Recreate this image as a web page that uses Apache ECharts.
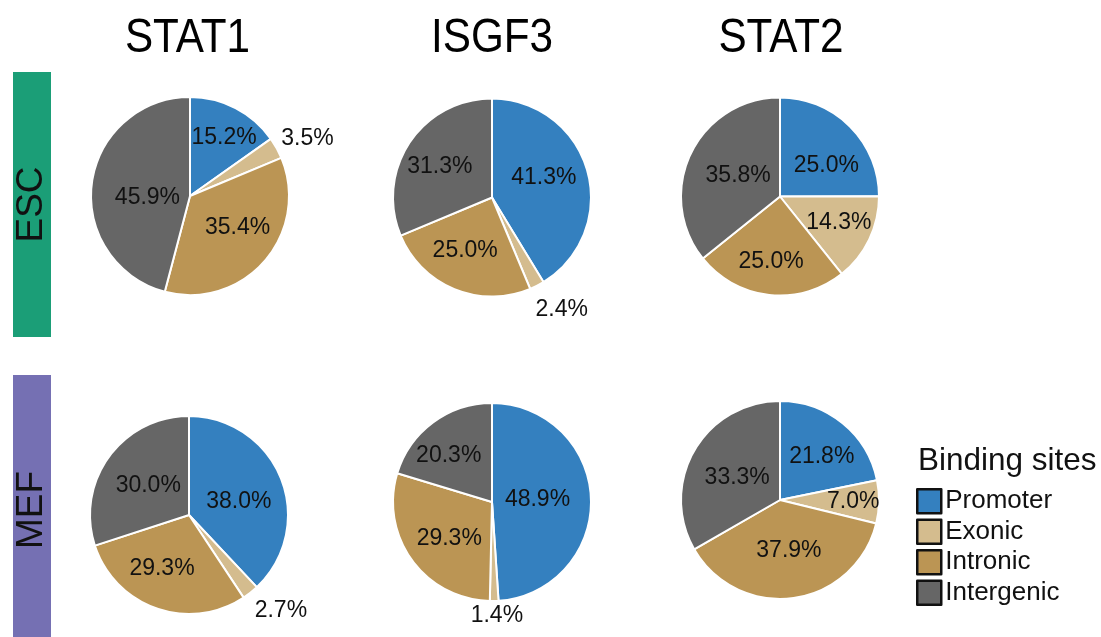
<!DOCTYPE html>
<html>
<head>
<meta charset="utf-8">
<script src="https://cdn.jsdelivr.net/npm/echarts@6/dist/echarts.min.js"></script>
<style>
  html, body { margin: 0; padding: 0; background: #fff; }
  #chart { width: 1101px; height: 637px; }
</style>
</head>
<body>
<div id="chart"></div>
<script>
// Binding-site categories (clockwise from 12 o'clock)
const CATEGORIES = ['Promoter', 'Exonic', 'Intronic', 'Intergenic'];
const FACTORS = ['STAT1', 'ISGF3', 'STAT2'];
const CELL_TYPES = ['ESC', 'MEF'];

// Percentage of peaks per category
const ESC_STAT1 = [15.2, 3.5, 35.4, 45.9];
const ESC_ISGF3 = [41.3, 2.4, 25.0, 31.3];
const ESC_STAT2 = [25.0, 14.3, 25.0, 35.8];
const MEF_STAT1 = [38.0, 2.7, 29.3, 30.0];
const MEF_ISGF3 = [48.9, 1.4, 29.3, 20.3];
const MEF_STAT2 = [21.8, 7.0, 37.9, 33.3];

const VALUES = {
  ESC: { STAT1: ESC_STAT1, ISGF3: ESC_ISGF3, STAT2: ESC_STAT2 },
  MEF: { STAT1: MEF_STAT1, ISGF3: MEF_ISGF3, STAT2: MEF_STAT2 }
};

// ---- styling / layout ----
const COLORS = ['#3480bf', '#d4bc8e', '#bb9554', '#666666'];
const FONT = '"Liberation Sans", Arial, Helvetica, sans-serif';
const RADIUS = 99;
const CENTERS = {
  ESC: { STAT1: [190, 196], ISGF3: [492, 197.5], STAT2: [780, 196.5] },
  MEF: { STAT1: [189, 515], ISGF3: [492, 502], STAT2: [780, 500] }
};
// label placement per slice: [fraction of radius, angular nudge in degrees]
const LABEL_PLACE = {
  ESC: {
    STAT1: [[0.68, 3], [1.32, 3], [0.58, -7], [0.43, -9]],
    ISGF3: [[0.56, -5], [1.33, -5], [0.60, 4.5], [0.61, -3.3]],
    STAT2: [[0.56, 11.7], [0.65, -1.8], [0.66, 1.6], [0.47, 0.4]]
  },
  MEF: {
    STAT1: [[0.52, 7], [1.34, -5.5], [0.61, 7.3], [0.51, 0.2]],
    ISGF3: [[0.46, -0.6], [1.15, -1.2], [0.57, -4.8], [0.64, -6.5]],
    STAT2: [[0.61, 4.5], [0.74, 0.5], [0.52, -1.9], [0.49, -2]]
  }
};

function makeLabelLayout(values, center, place) {
  const total = values.reduce((a, b) => a + b, 0);
  return function (p) {
    const i = p.dataIndex;
    let cum = 0;
    for (let k = 0; k < i; k++) cum += values[k];
    cum += values[i] / 2;
    const deg = cum / total * 360 + place[i][1];
    const rad = deg * Math.PI / 180;
    const r = RADIUS * place[i][0];
    return {
      x: center[0] + r * Math.sin(rad),
      y: center[1] - r * Math.cos(rad),
      align: 'center',
      verticalAlign: 'middle'
    };
  };
}

const series = [];
CELL_TYPES.forEach(cell => {
  FACTORS.forEach(tf => {
    const values = VALUES[cell][tf];
    const center = CENTERS[cell][tf];
    series.push({
      type: 'pie',
      name: cell + ' ' + tf,
      center: center,
      radius: [0, RADIUS],
      startAngle: 90,
      clockwise: true,
      avoidLabelOverlap: false,
      silent: true,
      itemStyle: { borderColor: '#ffffff', borderWidth: 2 },
      label: {
        show: true,
        position: 'inside',
        formatter: p => p.value.toFixed(1) + '%',
        color: '#111',
        fontSize: 23,
        fontFamily: FONT
      },
      labelLine: { show: false },
      labelLayout: makeLabelLayout(values, center, LABEL_PLACE[cell][tf]),
      emphasis: { disabled: true },
      data: CATEGORIES.map((c, i) => ({ name: c, value: values[i] }))
    });
  });
});

const graphics = [];
// column headers
const HEADER_X = [187.5, 492, 781];
FACTORS.forEach((tf, i) => {
  graphics.push({
    type: 'text', x: HEADER_X[i], y: 39, scaleX: 0.88,
    style: { text: tf, font: '48px ' + FONT, fill: '#000', textAlign: 'center', textVerticalAlign: 'middle' }
  });
});
// row bands
const BANDS = [
  { y: 72, h: 265, color: '#1b9e77', ty: 204.5 },
  { y: 375, h: 262, color: '#7570b3', ty: 510 }
];
CELL_TYPES.forEach((cell, i) => {
  const b = BANDS[i];
  graphics.push({
    type: 'rect', shape: { x: 13, y: b.y, width: 38, height: b.h },
    style: { fill: b.color }
  });
  graphics.push({
    type: 'text', x: 31.5, y: b.ty, rotation: Math.PI / 2,
    style: { text: cell, font: '37px ' + FONT, fill: '#111', textAlign: 'center', textVerticalAlign: 'middle' }
  });
});
// legend heading
graphics.push({
  type: 'text', x: 918, y: 461,
  style: { text: 'Binding sites', font: '31.5px ' + FONT, fill: '#111', textAlign: 'left', textVerticalAlign: 'middle' }
});

const chart = echarts.init(document.getElementById('chart'), null, { renderer: 'canvas' });
chart.setOption({
  animation: false,
  backgroundColor: '#ffffff',
  color: COLORS,
  legend: {
    orient: 'vertical',
    left: 911,
    top: 483,
    icon: 'rect',
    itemWidth: 24,
    itemHeight: 24,
    itemGap: 4,
    selectedMode: false,
    itemStyle: { borderColor: '#111', borderWidth: 2.5 },
    textStyle: { fontSize: 26, color: '#111', fontFamily: FONT, padding: [0, 0, 0, -1] },
    data: CATEGORIES
  },
  graphic: graphics,
  series: series
});
</script>
</body>
</html>
